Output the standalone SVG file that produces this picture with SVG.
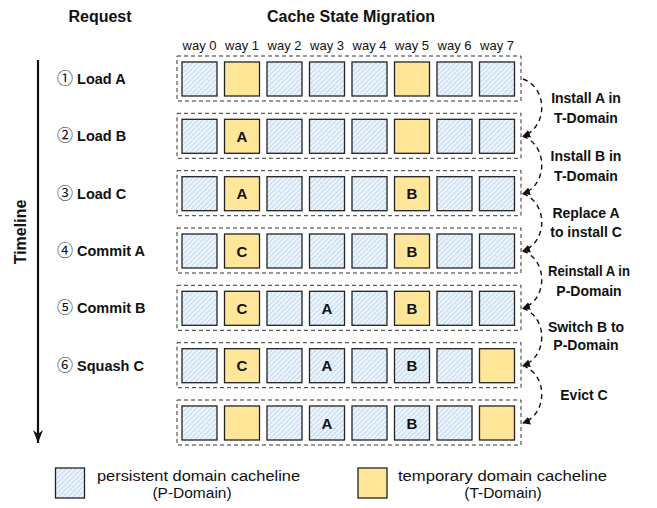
<svg xmlns="http://www.w3.org/2000/svg" width="657" height="508" viewBox="0 0 657 508">
<style>
text{font-family:"Liberation Sans","Noto Sans CJK SC",sans-serif;fill:#111}
.t{font-size:16px;font-weight:bold}
.w{font-size:13px;text-anchor:middle}
.r{font-size:14.5px;font-weight:bold}
.n{font-family:"Noto Sans CJK SC",sans-serif;font-weight:normal;font-size:16px}
.l{font-size:14px;font-weight:bold;text-anchor:middle}
.c{font-size:15px;font-weight:bold;text-anchor:middle}
.g{font-size:15.5px;text-anchor:middle}
.row{fill:none;stroke:#333;stroke-width:1;stroke-dasharray:4 3}
.p{fill:url(#hatch);stroke:#222;stroke-width:1.3}
.y{fill:#ffe699;stroke:#222;stroke-width:1.3}
.arc{fill:none;stroke:#111;stroke-width:1.4;stroke-dasharray:5 4;marker-end:url(#ah)}
</style>
<defs>
<pattern id="hatch" width="3.5" height="3.5" patternUnits="userSpaceOnUse" patternTransform="rotate(45)">
<rect width="3.5" height="3.5" fill="#ecf4fc"/>
<rect width="1" height="3.5" fill="#c0d8f0"/>
</pattern>
<marker id="ah" markerWidth="8" markerHeight="8" refX="7" refY="4" orient="auto" markerUnits="userSpaceOnUse">
<path d="M0,0 L8,4 L0,8 z" fill="#111"/>
</marker>
<marker id="ta" markerWidth="10" markerHeight="14" refX="5" refY="13" orient="0" markerUnits="userSpaceOnUse">
<path d="M0,0 L5,13 L10,0 L5,4 z" fill="#111"/>
</marker>
</defs>

<g id="titles">
<text class="t" x="100" y="22" text-anchor="middle">Request</text>
<text class="t" x="351" y="22" text-anchor="middle">Cache State Migration</text>
<text class="t" transform="translate(26,232) rotate(-90)" text-anchor="middle">Timeline</text>
</g>

<g id="ways">
<text class="w" x="199.5" y="50">way 0</text>
<text class="w" x="242" y="50">way 1</text>
<text class="w" x="284.5" y="50">way 2</text>
<text class="w" x="327" y="50">way 3</text>
<text class="w" x="369.5" y="50">way 4</text>
<text class="w" x="412" y="50">way 5</text>
<text class="w" x="454.5" y="50">way 6</text>
<text class="w" x="497" y="50">way 7</text>
</g>

<g id="timeline">
<line x1="38" y1="60" x2="38" y2="443" stroke="#111" stroke-width="2.2" marker-end="url(#ta)"/>
</g>

<g id="requests">
<text class="r" x="57" y="84"><tspan class="n">①</tspan> Load A</text>
<text class="r" x="57" y="141"><tspan class="n">②</tspan> Load B</text>
<text class="r" x="57" y="199"><tspan class="n">③</tspan> Load C</text>
<text class="r" x="57" y="256"><tspan class="n">④</tspan> Commit A</text>
<text class="r" x="57" y="313"><tspan class="n">⑤</tspan> Commit B</text>
<text class="r" x="57" y="371"><tspan class="n">⑥</tspan> Squash C</text>
</g>

<g id="row1" transform="translate(0,62)">
<rect class="row" x="177" y="-6" width="344" height="45"/>
<rect class="p" x="182" y="0" width="35" height="34"/>
<rect class="y" x="224.5" y="0" width="35" height="34"/>
<rect class="p" x="267" y="0" width="35" height="34"/>
<rect class="p" x="309.5" y="0" width="35" height="34"/>
<rect class="p" x="352" y="0" width="35" height="34"/>
<rect class="y" x="394.5" y="0" width="35" height="34"/>
<rect class="p" x="437" y="0" width="35" height="34"/>
<rect class="p" x="479.5" y="0" width="35" height="34"/>
</g>

<g id="row2" transform="translate(0,119.3)">
<rect class="row" x="177" y="-6" width="344" height="45"/>
<rect class="p" x="182" y="0" width="35" height="34"/>
<rect class="y" x="224.5" y="0" width="35" height="34"/>
<text class="c" x="242" y="22.5">A</text>
<rect class="p" x="267" y="0" width="35" height="34"/>
<rect class="p" x="309.5" y="0" width="35" height="34"/>
<rect class="p" x="352" y="0" width="35" height="34"/>
<rect class="y" x="394.5" y="0" width="35" height="34"/>
<rect class="p" x="437" y="0" width="35" height="34"/>
<rect class="p" x="479.5" y="0" width="35" height="34"/>
</g>

<g id="row3" transform="translate(0,176.7)">
<rect class="row" x="177" y="-6" width="344" height="45"/>
<rect class="p" x="182" y="0" width="35" height="34"/>
<rect class="y" x="224.5" y="0" width="35" height="34"/>
<text class="c" x="242" y="22.5">A</text>
<rect class="p" x="267" y="0" width="35" height="34"/>
<rect class="p" x="309.5" y="0" width="35" height="34"/>
<rect class="p" x="352" y="0" width="35" height="34"/>
<rect class="y" x="394.5" y="0" width="35" height="34"/>
<text class="c" x="412" y="22.5">B</text>
<rect class="p" x="437" y="0" width="35" height="34"/>
<rect class="p" x="479.5" y="0" width="35" height="34"/>
</g>

<g id="row4" transform="translate(0,234)">
<rect class="row" x="177" y="-6" width="344" height="45"/>
<rect class="p" x="182" y="0" width="35" height="34"/>
<rect class="y" x="224.5" y="0" width="35" height="34"/>
<text class="c" x="242" y="22.5">C</text>
<rect class="p" x="267" y="0" width="35" height="34"/>
<rect class="p" x="309.5" y="0" width="35" height="34"/>
<rect class="p" x="352" y="0" width="35" height="34"/>
<rect class="y" x="394.5" y="0" width="35" height="34"/>
<text class="c" x="412" y="22.5">B</text>
<rect class="p" x="437" y="0" width="35" height="34"/>
<rect class="p" x="479.5" y="0" width="35" height="34"/>
</g>

<g id="row5" transform="translate(0,291.3)">
<rect class="row" x="177" y="-6" width="344" height="45"/>
<rect class="p" x="182" y="0" width="35" height="34"/>
<rect class="y" x="224.5" y="0" width="35" height="34"/>
<text class="c" x="242" y="22.5">C</text>
<rect class="p" x="267" y="0" width="35" height="34"/>
<rect class="p" x="309.5" y="0" width="35" height="34"/>
<text class="c" x="327" y="22.5">A</text>
<rect class="p" x="352" y="0" width="35" height="34"/>
<rect class="y" x="394.5" y="0" width="35" height="34"/>
<text class="c" x="412" y="22.5">B</text>
<rect class="p" x="437" y="0" width="35" height="34"/>
<rect class="p" x="479.5" y="0" width="35" height="34"/>
</g>

<g id="row6" transform="translate(0,348.7)">
<rect class="row" x="177" y="-6" width="344" height="45"/>
<rect class="p" x="182" y="0" width="35" height="34"/>
<rect class="y" x="224.5" y="0" width="35" height="34"/>
<text class="c" x="242" y="22.5">C</text>
<rect class="p" x="267" y="0" width="35" height="34"/>
<rect class="p" x="309.5" y="0" width="35" height="34"/>
<text class="c" x="327" y="22.5">A</text>
<rect class="p" x="352" y="0" width="35" height="34"/>
<rect class="p" x="394.5" y="0" width="35" height="34"/>
<text class="c" x="412" y="22.5">B</text>
<rect class="p" x="437" y="0" width="35" height="34"/>
<rect class="y" x="479.5" y="0" width="35" height="34"/>
</g>

<g id="row7" transform="translate(0,406)">
<rect class="row" x="177" y="-6" width="344" height="45"/>
<rect class="p" x="182" y="0" width="35" height="34"/>
<rect class="y" x="224.5" y="0" width="35" height="34"/>
<rect class="p" x="267" y="0" width="35" height="34"/>
<rect class="p" x="309.5" y="0" width="35" height="34"/>
<text class="c" x="327" y="22.5">A</text>
<rect class="p" x="352" y="0" width="35" height="34"/>
<rect class="p" x="394.5" y="0" width="35" height="34"/>
<text class="c" x="412" y="22.5">B</text>
<rect class="p" x="437" y="0" width="35" height="34"/>
<rect class="y" x="479.5" y="0" width="35" height="34"/>
</g>

<g id="connectors">
<path class="arc" d="M523,79 C548,88 548,127 523,136.3"/>
<path class="arc" d="M523,136.3 C548,145.3 548,184.7 523,193.7"/>
<path class="arc" d="M523,193.7 C548,202.7 548,242 523,251"/>
<path class="arc" d="M523,251 C548,260 548,299.3 523,308.3"/>
<path class="arc" d="M523,308.3 C548,317.3 548,356.7 523,365.7"/>
<path class="arc" d="M523,365.7 C548,374.7 548,414 523,423"/>
</g>

<g id="labels">
<text class="l" x="586" y="103">Install A in</text>
<text class="l" x="586" y="123">T-Domain</text>
<text class="l" x="586" y="161">Install B in</text>
<text class="l" x="586" y="181">T-Domain</text>
<text class="l" x="586" y="218">Replace A</text>
<text class="l" x="586" y="237">to install C</text>
<text class="l" x="589" y="276" textLength="82" lengthAdjust="spacingAndGlyphs">Reinstall A in</text>
<text class="l" x="589" y="296">P-Domain</text>
<text class="l" x="586" y="332">Switch B to</text>
<text class="l" x="586" y="350">P-Domain</text>
<text class="l" x="584" y="400">Evict C</text>
</g>

<g id="legend">
<rect class="p" x="55.5" y="468" width="29" height="30"/>
<text class="g" x="198.5" y="481" textLength="203" lengthAdjust="spacingAndGlyphs">persistent domain cacheline</text>
<text class="g" x="192" y="498">(P-Domain)</text>
<rect class="y" x="358" y="468" width="29" height="30"/>
<text class="g" x="502.5" y="481" textLength="209" lengthAdjust="spacingAndGlyphs">temporary domain cacheline</text>
<text class="g" x="503" y="498">(T-Domain)</text>
</g>
</svg>
